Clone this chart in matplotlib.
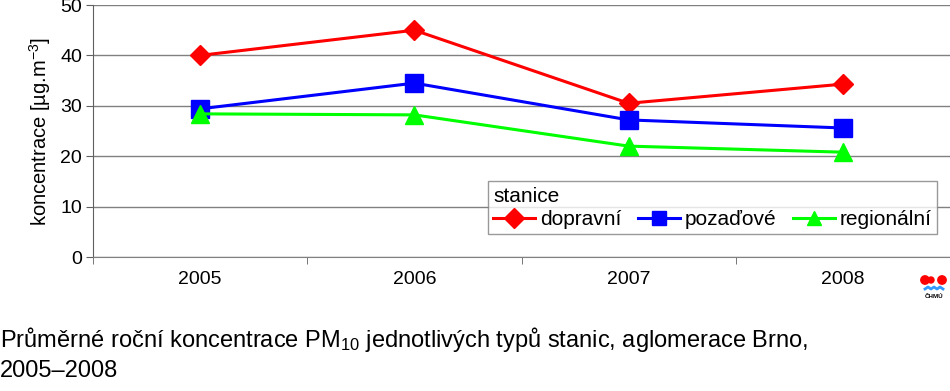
import matplotlib
matplotlib.use("Agg")
import matplotlib.pyplot as plt
from matplotlib.patches import Circle
import numpy as np

plt.rcParams["font.family"] = ["Liberation Sans", "DejaVu Sans"]
plt.rcParams["mathtext.fontset"] = "custom"
plt.rcParams["mathtext.rm"] = "Liberation Sans"
plt.rcParams["mathtext.it"] = "Liberation Sans"

years = ["2005", "2006", "2007", "2008"]
dopravni = [40.0, 45.0, 30.5, 34.3]
pozadove = [29.4, 34.5, 27.2, 25.6]
regionalni = [28.4, 28.2, 22.0, 20.8]
series_names = ["dopravní", "pozaďové", "regionální"]

W, H = 950, 391
fig = plt.figure(figsize=(W / 100, H / 100), dpi=100)
ax = fig.add_axes([93 / W, 1 - 257 / H, 1 - 93 / W, 252 / H])

x = np.arange(len(years))
ax.plot(x, dopravni, color="#ff0000", lw=2.2, marker="D", ms=10.5, label=series_names[0])
ax.plot(x, pozadove, color="#0000ff", lw=2.2, marker="s", ms=13, label=series_names[1])
ax.plot(x, regionalni, color="#00ff00", lw=2.2, marker="^", ms=13, label=series_names[2])

ax.set_xlim(-0.5, len(years) - 0.5)
ax.set_ylim(0, 50)
ax.set_yticks(np.arange(0, 51, 10))
ax.set_xticks(x)
ax.set_xticklabels(years)
ax.set_xticks(np.arange(-0.5, len(years), 1), minor=True)
ax.tick_params(axis="x", which="major", length=0, pad=10, labelsize=14)
ax.tick_params(axis="x", which="minor", length=5, color="#606060")
ax.tick_params(axis="y", length=5, color="#606060", labelsize=14, pad=3)
ax.grid(axis="y", color="#808080", lw=1)
ax.set_axisbelow(True)
for side in ["top", "right"]:
    ax.spines[side].set_visible(False)
ax.spines["left"].set_color("#606060")
ax.spines["bottom"].set_color("#808080")
ax.set_ylabel("koncentrace [µg.m$^{-3}$]", fontsize=14.5, labelpad=5)

leg = ax.legend(title="stanice", ncol=3, loc="lower right", bbox_to_anchor=(0.985, 0.091),
                fontsize=15, title_fontsize=15, frameon=True, fancybox=False,
                handlelength=2.0, columnspacing=0.8, handletextpad=0.25,
                borderpad=0.25, labelspacing=0.2, borderaxespad=0)
leg._legend_box.align = "left"
leg.get_frame().set_edgecolor("#808080")
leg.get_frame().set_linewidth(1)
for h in leg.legend_handles:
    h.set_markersize(10)

# caption, two lines
fig.text(0.0, 1 - 347 / H,
         "Průměrné roční koncentrace PM$_{10}$ jednotlivých typů stanic, aglomerace Brno,",
         fontsize=17, va="baseline", ha="left")
fig.text(0.0, 1 - 377 / H, "2005–2008", fontsize=17, va="baseline", ha="left")

# small CHMU logo
lax = fig.add_axes([918 / W, 1 - 302 / H, 32 / W, 30 / H])
lax.set_xlim(0, 32)
lax.set_ylim(0, 30)
lax.set_aspect("equal")
lax.axis("off")
for cx, r in [(7, 4.2), (13, 3.0), (24, 4.2)]:
    lax.add_patch(Circle((cx, 22), r, color="#ff0000"))
lax.plot([7, 10, 13, 16, 19, 22, 25], [13, 15, 13, 15, 13, 15, 13], color="#3399ff", lw=2)
lax.text(16, 5, "ČHMÚ", fontsize=4.5, fontweight="bold", ha="center", va="center")

fig.savefig("out.png", dpi=100)
